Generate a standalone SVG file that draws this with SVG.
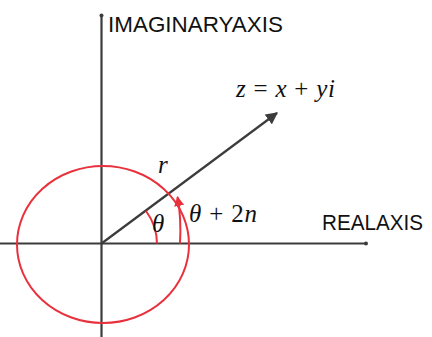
<svg xmlns="http://www.w3.org/2000/svg" width="432" height="337" viewBox="0 0 432 337">
<defs>
<style>
.axis{stroke:#3c3c3c;stroke-width:2.2;fill:none}
.red{stroke:#e8313c;stroke-width:2;fill:none}
.lbl{font-family:"Liberation Sans",Arial,sans-serif;font-size:22.5px;fill:#111}
.math{font-family:"Liberation Serif","Times New Roman",serif;font-size:25px;fill:#111}
.it{font-style:italic}
</style>
<marker id="ah" viewBox="0 0 10 10" refX="9" refY="5" markerWidth="5.5" markerHeight="5.5" orient="auto" markerUnits="strokeWidth">
<path d="M0,0 L10,5 L0,10 z" fill="#3c3c3c"/>
</marker>
<marker id="rah" viewBox="0 0 10 10" refX="9" refY="5" markerWidth="5" markerHeight="5" orient="auto" markerUnits="strokeWidth">
<path d="M0,0 L10,5 L0,10 z" fill="#e8313c"/>
</marker>
</defs>
<rect width="432" height="337" fill="#fff"/>
<g id="connectors">
<line class="axis" x1="101.5" y1="15" x2="101.5" y2="337"/>
<circle cx="101.5" cy="15.5" r="2" fill="#3c3c3c"/>
<line class="axis" x1="0" y1="243.5" x2="366" y2="243.5"/>
<circle cx="366" cy="243.5" r="2" fill="#3c3c3c"/>
<line class="axis" x1="101.5" y1="243.5" x2="277" y2="113" marker-end="url(#ah)"/>
</g>
<g id="circle">
<ellipse class="red" cx="103" cy="244.5" rx="86" ry="78.5"/>
</g>
<g id="theta-arc">
<path class="red" d="M157,243.5 A55.5,55.5 0 0 0 146,211"/>
</g>
<g id="theta2n-arc">
<path class="red" d="M180,243.5 Q181.5,218 177.5,197" marker-end="url(#rah)"/>
</g>
<g id="labels">
<text class="lbl" x="108" y="31.5" textLength="175" lengthAdjust="spacingAndGlyphs">IMAGINARYAXIS</text>
<text class="lbl" x="322" y="230" textLength="101" lengthAdjust="spacingAndGlyphs">REALAXIS</text>
<text class="math" x="236" y="97" textLength="99" lengthAdjust="spacing"><tspan class="it">z</tspan> = <tspan class="it">x</tspan> + <tspan class="it">yi</tspan></text>
<text class="math it" x="158" y="173">r</text>
<text class="math it" x="152" y="232">θ</text>
<text class="math" x="189" y="222" textLength="68" lengthAdjust="spacing"><tspan class="it">θ</tspan> + 2<tspan class="it">n</tspan></text>
</g>
</svg>
